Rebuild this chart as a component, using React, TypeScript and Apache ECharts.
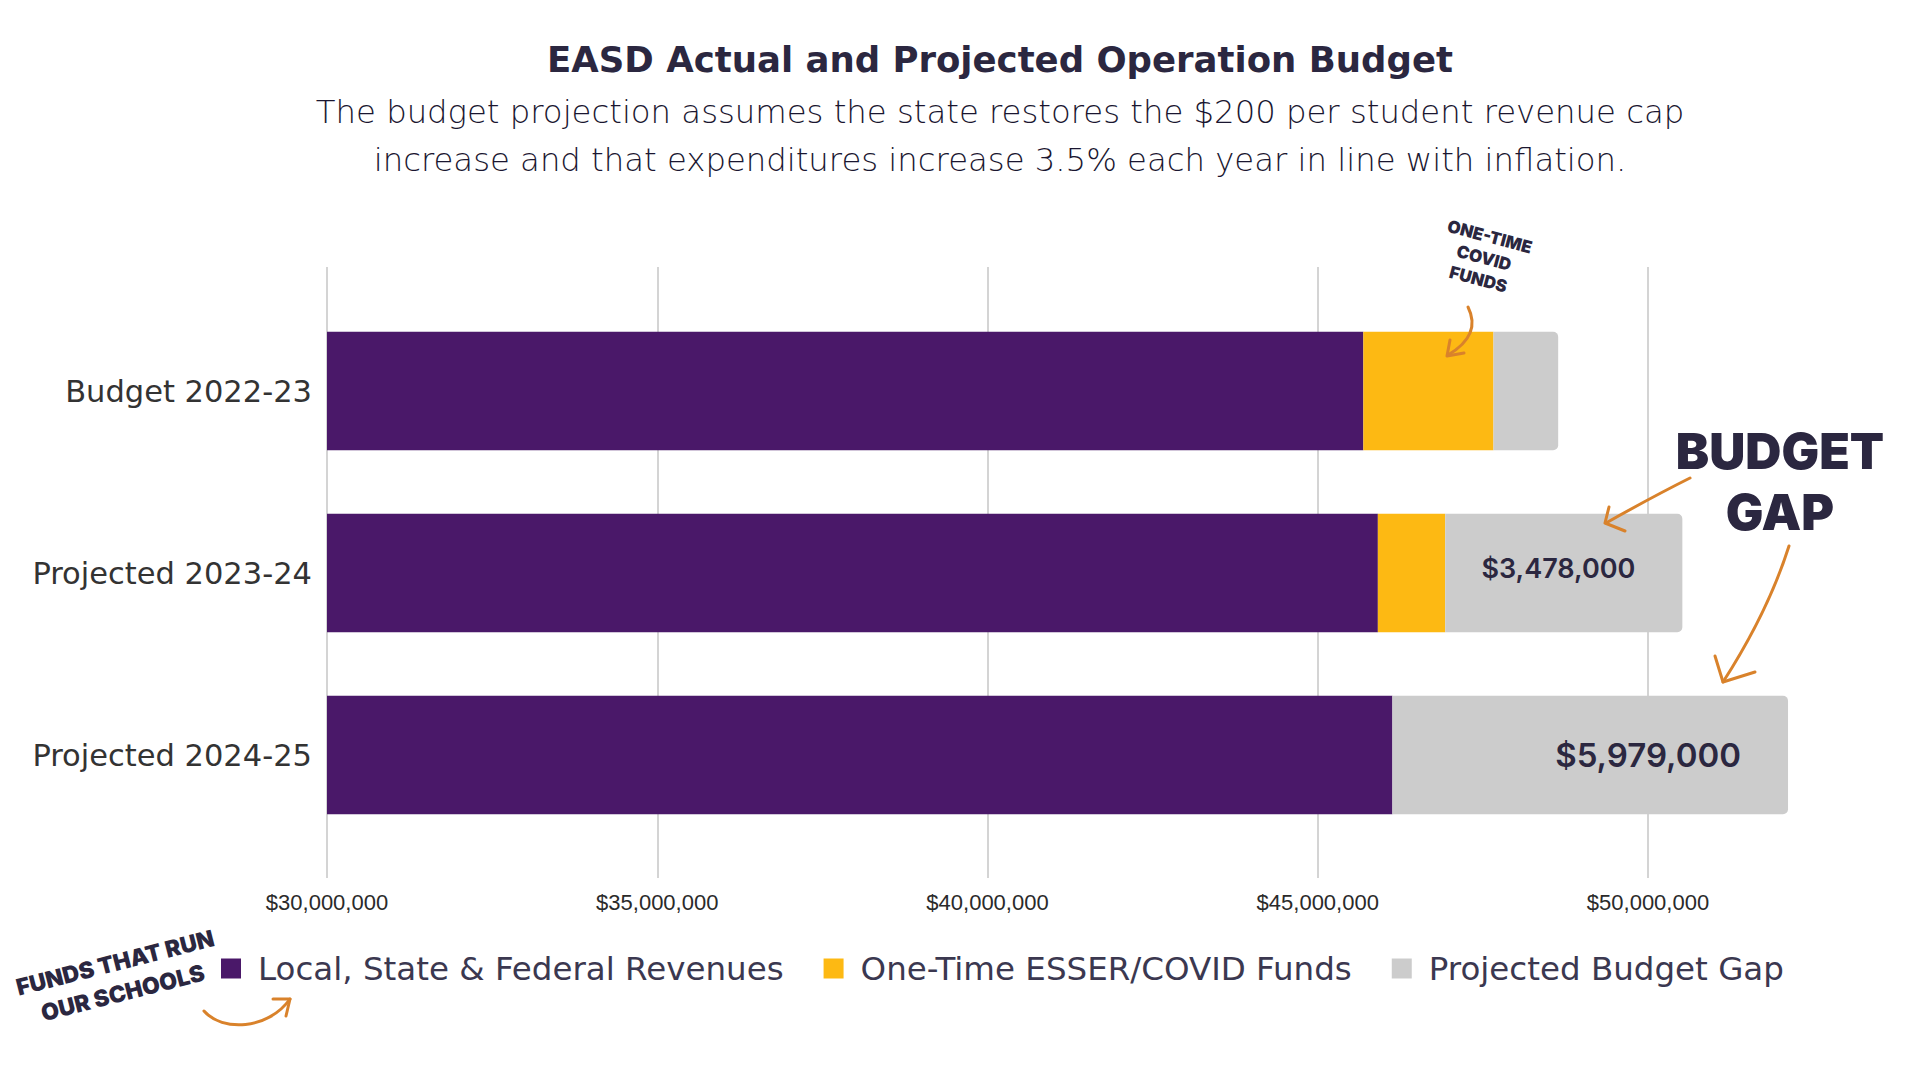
import React, { useEffect, useRef } from "react";
import * as echarts from "echarts";

const categories = ["Budget 2022-23", "Projected 2023-24", "Projected 2024-25"];
const revenues = [45690000, 45910000, 46130000];
const esser = [1970000, 1020000, 0];
const gap = [980000, 3590000, 5990000];
const gapLabels = ["", "$3,478,000", "$5,979,000"];
const seriesNames = ["Local, State & Federal Revenues", "One-Time ESSER/COVID Funds", "Projected Budget Gap"];
const axisMin = 30000000;
const axisMax = 50000000;
const axisStep = 5000000;
const barAxisMax = 53000000;

const titleText = "EASD Actual and Projected Operation Budget";
const subtitleText =
  "The budget projection assumes the state restores the $200 per student revenue cap\nincrease and that expenditures increase 3.5% each year in line with inflation.";

const NAVY = "#2b2740";
const ORANGE = "#d9822b";

export default function App() {
  const ref = useRef<HTMLDivElement>(null);
  useEffect(() => {
    if (!ref.current) return;
    const chart = echarts.init(ref.current, undefined, { renderer: "svg" });
    const gridLeft = 327;
    const gridWidth = 1321;
    const barGridWidth = (gridWidth * (barAxisMax - axisMin)) / (axisMax - axisMin);
    const fmt = (v: number) => "$" + Math.round(v).toLocaleString("en-US");
    const arrowStyle = { stroke: ORANGE, lineWidth: 3, lineCap: "round", lineJoin: "round", fill: null };
    const txt = (
      x: number,
      y: number,
      text: string,
      size: number,
      weight: any,
      rot = 0,
      lineHeight?: number
    ) => ({
      type: "text",
      x,
      y,
      z: 20,
      rotation: rot,
      style: {
        text,
        fontSize: size,
        fontWeight: weight,
        fontFamily: "Inter",
        fill: NAVY,
        lineHeight,
        textAlign: "center",
        textVerticalAlign: "middle",
        align: "center",
        verticalAlign: "middle",
      },
    });
    const curve = (shape: any) => ({ type: "bezierCurve", z: 20, shape, style: arrowStyle });
    const head = (points: number[][]) => ({ type: "polyline", z: 20, shape: { points }, style: arrowStyle });
    chart.setOption({
      animation: false,
      backgroundColor: "#ffffff",
      title: {
        text: titleText,
        subtext: subtitleText,
        left: 995,
        textAlign: "center",
        top: 33,
        itemGap: 8,
        textStyle: { fontFamily: "DejaVu Sans", fontWeight: "bold", fontSize: 35.5, color: NAVY, lineHeight: 42 },
        subtextStyle: { fontFamily: "DejaVu Sans", fontWeight: 200, fontSize: 32.3, color: "#1a1630", lineHeight: 48, align: "center" },
      },
      legend: {
        data: seriesNames,
        left: 216,
        top: 947,
        icon: "rect",
        itemWidth: 20,
        itemHeight: 20,
        itemGap: 40,
        textStyle: { fontFamily: "DejaVu Sans", fontSize: 32.5, color: "#3b3850", padding: [0, 0, 0, 12] },
      },
      grid: [
        { left: gridLeft, top: 300, width: barGridWidth, height: 546 },
        { left: gridLeft, top: 267, width: gridWidth, height: 611 },
      ],
      xAxis: [
        { type: "value", gridIndex: 0, min: axisMin, max: barAxisMax, show: false, splitLine: { show: false } },
        {
          type: "value",
          gridIndex: 1,
          min: axisMin,
          max: axisMax,
          interval: axisStep,
          axisLine: { show: false },
          axisTick: { show: false },
          splitLine: { show: true, lineStyle: { color: "#d4d4d4", width: 2 } },
          axisLabel: { formatter: fmt, fontFamily: "Liberation Sans", fontSize: 22, color: "#2a2a2a", margin: 13 },
        },
      ],
      yAxis: [
        {
          type: "category",
          gridIndex: 0,
          data: categories,
          inverse: true,
          axisLine: { show: false },
          axisTick: { show: false },
          axisLabel: { fontFamily: "DejaVu Sans", fontSize: 30.5, color: "#333333", margin: 15, padding: [7, 0, 0, 0] },
        },
        { type: "value", gridIndex: 1, show: false, min: 0, max: 1 },
      ],
      series: [
        {
          name: seriesNames[0],
          type: "bar",
          stack: "total",
          xAxisIndex: 0,
          yAxisIndex: 0,
          barCategoryGap: "35%",
          data: revenues,
          itemStyle: { color: "#4a1869" },
        },
        {
          name: seriesNames[1],
          type: "bar",
          stack: "total",
          xAxisIndex: 0,
          yAxisIndex: 0,
          data: esser,
          itemStyle: { color: "#fdb913" },
        },
        {
          name: seriesNames[2],
          type: "bar",
          stack: "total",
          xAxisIndex: 0,
          yAxisIndex: 0,
          itemStyle: { color: "#cccccc", borderRadius: [0, 5, 5, 0] },
          label: {
            show: false,
            position: "insideRight",
            distance: 47,
            fontFamily: "Inter",
            fontWeight: 600,
            color: NAVY,
          },
          data: gap.map((v, i) =>
            gapLabels[i]
              ? {
                  value: v,
                  label: {
                    show: true,
                    formatter: gapLabels[i],
                    fontSize: i === 2 ? 33 : 27,
                    offset: i === 2 ? [0, 0] : [0, -5],
                  },
                }
              : v
          ),
        },
      ],
      graphic: [
        // ONE-TIME COVID FUNDS
        txt(1484, 258, "ONE-TIME\nCOVID\nFUNDS", 17, 900, -0.26, 22),
        curve({ x1: 1468, y1: 307, cpx1: 1482, cpy1: 335, x2: 1448, y2: 355 }),
        head([[1450, 340], [1447, 356], [1464, 353]]),
        // BUDGET GAP
        txt(1780, 481, "BUDGET\nGAP", 50, 900, 0, 61),
        curve({ x1: 1690, y1: 478, cpx1: 1652, cpy1: 497, x2: 1606, y2: 523 }),
        head([[1609, 507], [1605, 523], [1625, 531]]),
        curve({ x1: 1789, y1: 546, cpx1: 1768, cpy1: 612, x2: 1723, y2: 682 }),
        head([[1715, 656], [1723, 682], [1755, 672]]),
        // FUNDS THAT RUN OUR SCHOOLS
        txt(119, 978, "FUNDS THAT RUN\nOUR SCHOOLS", 23, 900, 0.25, 31),
        curve({ x1: 204, y1: 1011, cpx1: 222, cpy1: 1032, cpx2: 268, cpy2: 1030, x2: 290, y2: 999 }),
        head([[273, 999], [290, 999], [286, 1016]]),
      ],
    });
    return () => chart.dispose();
  }, []);
  return (
    <div
      ref={ref}
      style={{ position: "fixed", left: 0, top: 0, width: 1920, height: 1080, background: "#fff" }}
    />
  );
}
